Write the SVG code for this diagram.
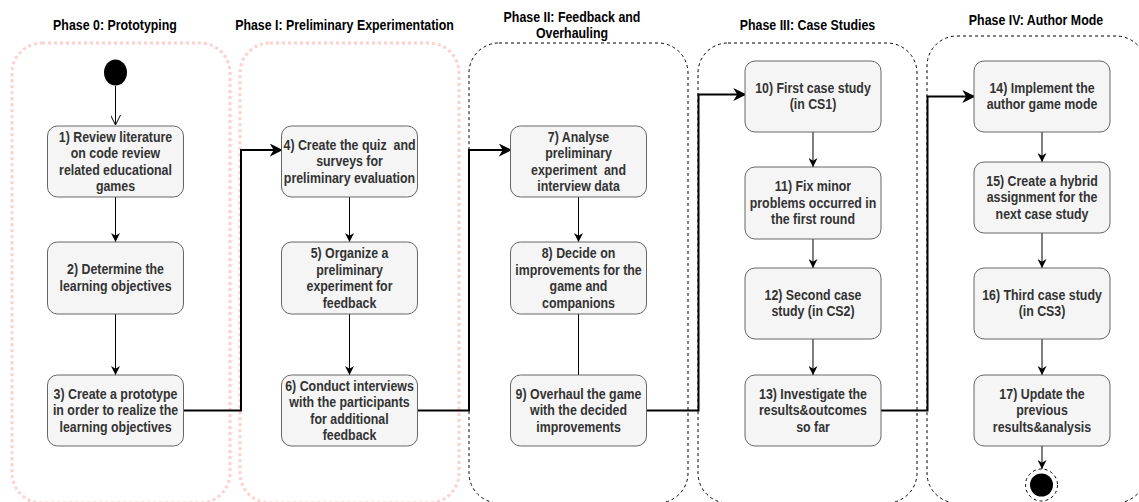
<svg xmlns="http://www.w3.org/2000/svg" width="1139" height="502" viewBox="0 0 1139 502">
<defs>
<style>
.hdr{font-family:"Liberation Sans",Arial,sans-serif;font-weight:bold;font-size:14px;fill:#000;text-anchor:middle}
.nt{font-family:"Liberation Sans",Arial,sans-serif;font-weight:bold;font-size:14px;fill:#333;text-anchor:middle;white-space:pre}
.box{fill:#f5f5f5;stroke:#666;stroke-width:1}
.pink{fill:none;stroke:#ffd0cc;stroke-width:3;stroke-dasharray:3 3}
.dash{fill:none;stroke:#000;stroke-width:1;stroke-dasharray:3 3}
.thin{fill:none;stroke:#000;stroke-width:1}
.thick{fill:none;stroke:#000;stroke-width:2}
</style>
<marker id="arr" viewBox="0 0 10 10" refX="10" refY="5" markerWidth="9" markerHeight="9" markerUnits="userSpaceOnUse" orient="auto">
<path d="M0,0 L10,5 L0,10 L3,5 Z" fill="#000"/>
</marker>
<marker id="arrBig" viewBox="0 0 10 10" refX="9" refY="5" markerWidth="13" markerHeight="13" markerUnits="userSpaceOnUse" orient="auto">
<path d="M0,0 L10,5 L0,10 L3,5 Z" fill="#000"/>
</marker>
<marker id="open" viewBox="0 0 10 10" refX="10" refY="5" markerWidth="10" markerHeight="10" markerUnits="userSpaceOnUse" orient="auto">
<path d="M0,0 L10,5 L0,10" fill="none" stroke="#000" stroke-width="1"/>
</marker>
</defs>
<rect width="1139" height="502" fill="#fff"/>

<g id="phases">
<g id="phase0">
<rect class="pink" x="12" y="43" width="218" height="460" rx="30" ry="30"/>
<g transform="translate(115,0) scale(0.885,1)"><text class="hdr" x="0" y="30.5">Phase 0: Prototyping</text></g>
</g>
<g id="phase1">
<rect class="pink" x="240" y="43" width="219" height="460" rx="30" ry="30"/>
<g transform="translate(344.5,0) scale(0.885,1)"><text class="hdr" x="0" y="30.5">Phase I: Preliminary Experimentation</text></g>
</g>
<g id="phase2">
<rect class="dash" x="469" y="43" width="219" height="460" rx="30" ry="30"/>
<g transform="translate(572,0) scale(0.885,1)"><text class="hdr" x="0" y="22">Phase II: Feedback and</text>
<text class="hdr" x="0" y="38">Overhauling</text></g>
</g>
<g id="phase3">
<rect class="dash" x="698" y="43" width="219" height="460" rx="30" ry="30"/>
<g transform="translate(807.5,0) scale(0.885,1)"><text class="hdr" x="0" y="30.5">Phase III: Case Studies</text></g>
</g>
<g id="phase4">
<rect class="dash" x="927" y="36" width="219" height="467" rx="30" ry="30"/>
<g transform="translate(1036,0) scale(0.885,1)"><text class="hdr" x="0" y="25">Phase IV: Author Mode</text></g>
</g>
</g>

<g id="connectors">
<path class="thin" d="M115.5,86 V125" marker-end="url(#open)"/>
<path class="thin" d="M115.5,197 V242" marker-end="url(#arr)"/>
<path class="thin" d="M115.5,314 V375" marker-end="url(#arr)"/>
<path class="thick" d="M183.5,410.5 H241 V150 H281.5" marker-end="url(#arrBig)"/>
<path class="thin" d="M349.5,197 V242" marker-end="url(#arr)"/>
<path class="thin" d="M349.5,314 V375" marker-end="url(#arr)"/>
<path class="thick" d="M417.5,410.5 H469 V150 H510.5" marker-end="url(#arrBig)"/>
<path class="thin" d="M578.5,197 V242" marker-end="url(#arr)"/>
<path class="thin" d="M578.5,314 V375"/>
<path class="thick" d="M646.5,410.5 H698.5 V94.5 H745" marker-end="url(#arrBig)"/>
<path class="thin" d="M813,132 V167" marker-end="url(#arr)"/>
<path class="thin" d="M813,239 V268" marker-end="url(#arr)"/>
<path class="thin" d="M813,339 V375" marker-end="url(#arr)"/>
<path class="thick" d="M881,410.5 H927.5 V96.5 H974" marker-end="url(#arrBig)"/>
<path class="thin" d="M1042,132 V162" marker-end="url(#arr)"/>
<path class="thin" d="M1042,233 V268" marker-end="url(#arr)"/>
<path class="thin" d="M1042,339 V375" marker-end="url(#arr)"/>
<path class="thin" d="M1042,446 V469" marker-end="url(#arr)"/>
</g>

<g id="start">
<ellipse cx="115.5" cy="72.5" rx="11.5" ry="13" fill="#000"/>
</g>

<g id="n1">
<rect class="box" x="47.5" y="126" width="136" height="71" rx="10"/>
<g transform="translate(115.5,0) scale(0.885,1)">
<text class="nt" x="0" y="142">1) Review literature</text>
<text class="nt" x="0" y="158.5">on code review</text>
<text class="nt" x="0" y="175">related educational</text>
<text class="nt" x="0" y="191.5">games</text></g>
</g>
<g id="n2">
<rect class="box" x="47.5" y="242" width="136" height="72" rx="10"/>
<g transform="translate(115.5,0) scale(0.885,1)">
<text class="nt" x="0" y="274.5">2) Determine the</text>
<text class="nt" x="0" y="291">learning objectives</text></g>
</g>
<g id="n3">
<rect class="box" x="47.5" y="375" width="136" height="71" rx="10"/>
<g transform="translate(115.5,0) scale(0.885,1)">
<text class="nt" x="0" y="399">3) Create a prototype</text>
<text class="nt" x="0" y="415.5">in order to realize the</text>
<text class="nt" x="0" y="432">learning objectives</text></g>
</g>

<g id="n4">
<rect class="box" x="281.5" y="126" width="136" height="71" rx="10"/>
<g transform="translate(349.5,0) scale(0.885,1)">
<text class="nt" x="0" y="150">4) Create the quiz  and</text>
<text class="nt" x="0" y="166.5">surveys for</text>
<text class="nt" x="0" y="183">preliminary evaluation</text></g>
</g>
<g id="n5">
<rect class="box" x="281.5" y="242" width="136" height="72" rx="10"/>
<g transform="translate(349.5,0) scale(0.885,1)">
<text class="nt" x="0" y="258.5">5) Organize a</text>
<text class="nt" x="0" y="275">preliminary</text>
<text class="nt" x="0" y="291.5">experiment for</text>
<text class="nt" x="0" y="308">feedback</text></g>
</g>
<g id="n6">
<rect class="box" x="281.5" y="375" width="136" height="71" rx="10"/>
<g transform="translate(349.5,0) scale(0.885,1)">
<text class="nt" x="0" y="391">6) Conduct interviews</text>
<text class="nt" x="0" y="407.5">with the participants</text>
<text class="nt" x="0" y="424">for additional</text>
<text class="nt" x="0" y="440.5">feedback</text></g>
</g>

<g id="n7">
<rect class="box" x="510.5" y="126" width="136" height="71" rx="10"/>
<g transform="translate(578.5,0) scale(0.885,1)">
<text class="nt" x="0" y="142">7) Analyse</text>
<text class="nt" x="0" y="158.5">preliminary</text>
<text class="nt" x="0" y="175">experiment  and</text>
<text class="nt" x="0" y="191.5">interview data</text></g>
</g>
<g id="n8">
<rect class="box" x="510.5" y="242" width="136" height="72" rx="10"/>
<g transform="translate(578.5,0) scale(0.885,1)">
<text class="nt" x="0" y="258.5">8) Decide on</text>
<text class="nt" x="0" y="275">improvements for the</text>
<text class="nt" x="0" y="291.5">game and</text>
<text class="nt" x="0" y="308">companions</text></g>
</g>
<g id="n9">
<rect class="box" x="510.5" y="375" width="136" height="71" rx="10"/>
<g transform="translate(578.5,0) scale(0.885,1)">
<text class="nt" x="0" y="399">9) Overhaul the game</text>
<text class="nt" x="0" y="415.5">with the decided</text>
<text class="nt" x="0" y="432">improvements</text></g>
</g>

<g id="n10">
<rect class="box" x="745" y="61" width="136" height="71" rx="10"/>
<g transform="translate(813,0) scale(0.885,1)">
<text class="nt" x="0" y="93">10) First case study</text>
<text class="nt" x="0" y="109.5">(in CS1)</text></g>
</g>
<g id="n11">
<rect class="box" x="745" y="167" width="136" height="72" rx="10"/>
<g transform="translate(813,0) scale(0.885,1)">
<text class="nt" x="0" y="191.5">11) Fix minor</text>
<text class="nt" x="0" y="208">problems occurred in</text>
<text class="nt" x="0" y="224.5">the first round</text></g>
</g>
<g id="n12">
<rect class="box" x="745" y="268" width="136" height="71" rx="10"/>
<g transform="translate(813,0) scale(0.885,1)">
<text class="nt" x="0" y="300">12) Second case</text>
<text class="nt" x="0" y="316.5">study (in CS2)</text></g>
</g>
<g id="n13">
<rect class="box" x="745" y="375" width="136" height="71" rx="10"/>
<g transform="translate(813,0) scale(0.885,1)">
<text class="nt" x="0" y="399">13) Investigate the</text>
<text class="nt" x="0" y="415.5">results&amp;outcomes</text>
<text class="nt" x="0" y="432">so far</text></g>
</g>

<g id="n14">
<rect class="box" x="974" y="61" width="136" height="71" rx="10"/>
<g transform="translate(1042,0) scale(0.885,1)">
<text class="nt" x="0" y="93">14) Implement the</text>
<text class="nt" x="0" y="109.5">author game mode</text></g>
</g>
<g id="n15">
<rect class="box" x="974" y="162" width="136" height="71" rx="10"/>
<g transform="translate(1042,0) scale(0.885,1)">
<text class="nt" x="0" y="186">15) Create a hybrid</text>
<text class="nt" x="0" y="202.5">assignment for the</text>
<text class="nt" x="0" y="219">next case study</text></g>
</g>
<g id="n16">
<rect class="box" x="974" y="268" width="136" height="71" rx="10"/>
<g transform="translate(1042,0) scale(0.885,1)">
<text class="nt" x="0" y="300">16) Third case study</text>
<text class="nt" x="0" y="316.5">(in CS3)</text></g>
</g>
<g id="n17">
<rect class="box" x="974" y="375" width="136" height="71" rx="10"/>
<g transform="translate(1042,0) scale(0.885,1)">
<text class="nt" x="0" y="399">17) Update the</text>
<text class="nt" x="0" y="415.5">previous</text>
<text class="nt" x="0" y="432">results&amp;analysis</text></g>
</g>

<g id="end">
<circle cx="1041.5" cy="485" r="16" fill="#fff" stroke="#000" stroke-width="1" stroke-dasharray="3 3"/>
<circle cx="1041.5" cy="485" r="11.5" fill="#000"/>
</g>
</svg>
